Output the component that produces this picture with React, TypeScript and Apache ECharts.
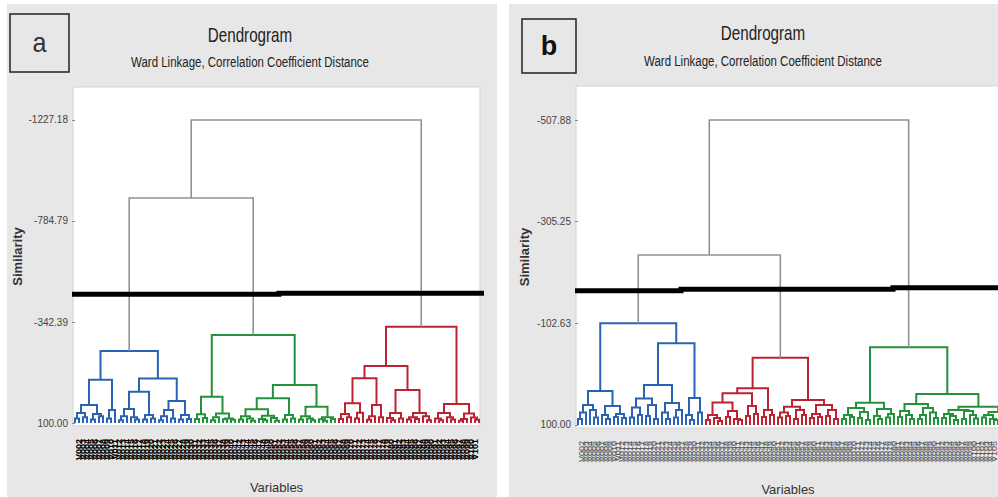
import React, { useEffect, useRef } from "react";
import * as echarts from "echarts";

type Tree = number | string | [number, Tree, Tree];

// ---------- Panel a (similarity heights; leaf = 0) ----------
const blueA: Tree = [-215,
  [-90,
    [21, [56, [80, 0, 0], [75, 0, 0]], [60, [85, 0, 0], [70, 0, 0]]],
    [43, [80, 0, 0], 0]],
  [-95,
    [-37,
      [39, [70, [88, 0, 0], 0], [75, 0, [85, 0, 0]]],
      [65, [85, 0, 0], [80, 0, 0]]],
    [4,
      [43, [70, [88, 0, 0], 0], [80, 0, 0]],
      [65, [85, 0, 0], [82, 0, 0]]]]];

const greenA: Tree = [-285.5,
  [-15,
    [62, [82, 0, 0], [78, 0, 0]],
    [58, [75, [88, 0, 0], 0], [80, [84, 0, 0], [86, 0, 0]]]],
  [-66.4,
    [-8,
      [40,
        [70, [85, 0, 0], [80, 0, [90, 0, 0]]],
        [68, [82, 0, [88, 0, 0]], [78, 0, [90, 0, 0]]]],
      [65, [85, 0, 0], [80, 0, 0]]],
    [28.6,
      [70, [85, 0, 0], [80, 0, [88, 0, 0]]],
      [75, [84, 0, [90, 0, 0]], [82, 0, 0]]]]];

const redA: Tree = [-321.8,
  [-149.7,
    [-95.8,
      [14, [60, [82, 0, 0], [75, 0, 0]], [55, [80, 0, 0], 0]],
      [21, [70, [86, 0, 0], 0], [75, 0, 0]]],
    [-44.5,
      [56, [78, 0, [88, 0, 0]], [80, 0, 0]],
      [56, [75, [85, 0, 0], [82, 0, 0]], [70, 0, [88, 0, 0]]]]],
  [16.8,
    [56, [80, 0, [88, 0, 0]], [75, 0, [85, 0, 0]]],
    [58, [82, [90, 0, 0], 0], [76, 0, [86, 0, 0]]]]];

const topA: Tree = [-1227.18, [-885.5, "blue", "green"], "red"];
const ticksA = [100, -342.39, -784.79, -1227.18];
const cutA = [[-0.75, -463.7], [51, -463.7], [51, -468], [102.25, -468]];

// ---------- Panel b ----------
const blueB: Tree = [-102.7,
  [32.2,
    [60, [75, [88, 0, 0], 0], [70, 0, [85, 0, 0]]],
    [62, [80, 0, [88, 0, 0]], [78, [84, 0, 0], [86, 0, 0]]]],
  [-62.8,
    [20.3,
      [47, [65, [85, 0, 0], [80, 0, 0]], [60, [82, 0, 0], [88, 0, 0]]],
      [56, [75, 0, [88, 0, 0]], [70, [85, 0, 0], 0]]],
    [46, [80, 0, [90, 0, 0]], [75, 0, 0]]]];

const redB: Tree = [-34.2,
  [26.9,
    [36.8,
      [55, [80, [90, 0, 0], [86, 0, [92, 0, 0]]], [72, [84, 0, 0], [88, 0, [90, 0, 0]]]],
      [62, [82, 0, 0], [78, 0, 0]]],
    [70, [84, 0, 0], [80, 0, 0]]],
  [50.2,
    [63.5, [75, [85, 0, 0], [82, 0, 0]], [70, [88, 0, 0], [80, 0, 0]]],
    [60, [78, [86, 0, 0], [84, 0, 0]], [70, [82, 0, 0], [88, 0, 0]]]]];

const greenB: Tree = [-54.8,
  [55.5,
    [66, [80, [88, 0, 0], [84, 0, 0]], [74, [86, 0, 0], [90, 0, 0]]],
    [68, [82, 0, [88, 0, 0]], [78, [85, 0, 0], 0]]],
  [38.2,
    [58,
      [72, [84, 0, 0], [80, 0, [88, 0, 0]]],
      [66, [80, [88, 0, 0], 0], [75, 0, [86, 0, 0]]]],
    [63.5,
      [70, [78, [86, 0, 0], [82, 0, [90, 0, 0]]], [72, [88, 0, 0], [80, 0, [87, 0, 0]]]],
      [74, [80, [85, 0, 0], [88, 0, [90, 0, 0]]], [76, [84, 0, 0], [82, 0, 0]]]]]];

const topB: Tree = [-507.88, [-238.8, "blue", "red"], "green"];
const ticksB = [100, -102.63, -305.25, -507.88];
const cutB = [[-0.75, -167.7], [25.75, -167.7], [25.75, -170.5], [78.75, -170.5], [78.75, -173.7], [106, -173.7]];

const COLORS: Record<string, string> = { blue: "#2a63b3", green: "#23923a", red: "#bd2233" };
const GRAY = "#929292";
const FONT = '"Liberation Sans", Arial, sans-serif';

function layout(top: Tree, clusters: Record<string, Tree>) {
  const segs: { coords: number[][]; lineStyle: any }[] = [];
  let next = 0;
  const walk = (node: Tree, color: string): [number, number] => {
    if (typeof node === "string") return walk(clusters[node], COLORS[node]);
    if (typeof node === "number") return [next++, 100];
    const [h, l, r] = node;
    const a = walk(l, color);
    const b = walk(r, color);
    segs.push({
      coords: [[a[0], a[1]], [a[0], h], [b[0], h], [b[0], b[1]]],
      lineStyle: { color, width: color === GRAY ? 1.6 : 2, opacity: 1 },
    });
    return [(a[0] + b[0]) / 2, h];
  };
  walk(top, GRAY);
  return { segs, count: next };
}

export default function App() {
  const ref = useRef<HTMLDivElement>(null);
  useEffect(() => {
    if (!ref.current) return;
    const chart = echarts.init(ref.current, undefined, { renderer: "svg" });
    const A = layout(topA, { blue: blueA, green: greenA, red: redA });
    const B = layout(topB, { blue: blueB, green: greenB, red: redB });
    const leavesA = Array.from({ length: A.count }, (_, i) => i);
    const leavesB = Array.from({ length: 106 }, (_, i) => i);
    const namesA = leavesA.map((i) => "V" + String(i + 1).padStart(3, "0"));
    const namesB = leavesB.map((i) => "V" + String(i + 1).padStart(3, "0"));

    const yAxis = (ticks: number[], min: number, max: number, idx: number, gap: number) => ({
      type: "value",
      gridIndex: idx,
      inverse: true,
      min,
      max,
      name: "Similarity",
      nameLocation: "middle",
      nameGap: gap,
      nameTextStyle: { fontSize: 13, fontWeight: "bold", color: "#333", fontFamily: FONT },
      axisLine: { show: false },
      splitLine: { show: false },
      axisTick: { show: true, length: 3, customValues: ticks, lineStyle: { color: "#888" } },
      axisLabel: {
        customValues: ticks,
        formatter: (v: number) => v.toFixed(2),
        fontSize: 10,
        color: "#444",
        fontFamily: FONT,
        margin: 5,
      },
    });
    const xAxis = (idx: number, max: number, leaves: number[], names: string[], color: string, weight: string) => ({
      type: "value",
      gridIndex: idx,
      min: -0.5,
      max,
      name: "Variables",
      nameLocation: "middle",
      nameGap: 55,
      nameTextStyle: { fontSize: 13, color: "#333", fontFamily: FONT },
      axisLine: { show: false },
      splitLine: { show: false },
      axisTick: { show: false },
      axisLabel: {
        customValues: leaves,
        formatter: (v: number) => names[v] ?? "",
        rotate: 90,
        fontSize: 9,
        fontWeight: weight,
        color,
        margin: 13,
        fontFamily: FONT,
      },
    });

    const text = (x: number, y: number, t: string, size: number, sx = 1, weight = "normal", fill = "#222") => ({
      type: "text",
      x,
      y,
      scaleX: sx,
      silent: true,
      style: { text: t, fontSize: size, fontWeight: weight, fontFamily: FONT, fill, align: "center", verticalAlign: "middle" },
    });

    chart.setOption({
      animation: false,
      backgroundColor: "#ffffff",
      graphic: [
        { type: "rect", z: -10, silent: true, shape: { x: 7, y: 4, width: 490, height: 493 }, style: { fill: "#e7e7e7" } },
        { type: "rect", z: -10, silent: true, shape: { x: 509, y: 4, width: 489, height: 493 }, style: { fill: "#e7e7e7" } },
        { type: "rect", silent: true, shape: { x: 10, y: 14, width: 59, height: 58 }, style: { fill: "none", stroke: "#222", lineWidth: 1.5 } },
        { type: "rect", silent: true, shape: { x: 522, y: 19, width: 54, height: 54 }, style: { fill: "none", stroke: "#222", lineWidth: 1.5 } },
        text(39.5, 43, "a", 28, 0.9, "normal", "#333"),
        text(549, 46, "b", 27, 1, "bold", "#111"),
        text(250, 35, "Dendrogram", 20, 0.76),
        text(250, 62, "Ward Linkage, Correlation Coefficient Distance", 14, 0.82),
        text(763, 33, "Dendrogram", 20, 0.76),
        text(763, 61, "Ward Linkage, Correlation Coefficient Distance", 14, 0.82),
      ],
      grid: [
        { left: 73, top: 87, width: 407, height: 339, show: true, outerBoundsMode: "none", containLabel: false,
          backgroundColor: "#ffffff", borderColor: "#d2d2d2", borderWidth: 1 },
        { left: 576, top: 86, width: 424, height: 342, show: true, outerBoundsMode: "none", containLabel: false,
          backgroundColor: "#ffffff", borderColor: "#d2d2d2", borderWidth: 1 },
      ],
      xAxis: [
        xAxis(0, 101.25, leavesA, namesA, "#000", "bold"),
        xAxis(1, 105.5, leavesB, namesB, "#555", "normal"),
      ],
      yAxis: [
        yAxis(ticksA, -1371.7, 113.1, 0, 49),
        yAxis(ticksB, -575.7, 106, 1, 45),
      ],
      series: [
        { type: "lines", coordinateSystem: "cartesian2d", xAxisIndex: 0, yAxisIndex: 0, polyline: true, clip: false, silent: true, data: A.segs },
        { type: "lines", coordinateSystem: "cartesian2d", xAxisIndex: 1, yAxisIndex: 1, polyline: true, clip: false, silent: true, data: B.segs },
        { type: "lines", coordinateSystem: "cartesian2d", xAxisIndex: 0, yAxisIndex: 0, polyline: true, clip: false, silent: true, z: 5,
          data: [{ coords: cutA }], lineStyle: { color: "#000", width: 5, opacity: 1 } },
        { type: "lines", coordinateSystem: "cartesian2d", xAxisIndex: 1, yAxisIndex: 1, polyline: true, clip: false, silent: true, z: 5,
          data: [{ coords: cutB }], lineStyle: { color: "#000", width: 5, opacity: 1 } },
      ],
    });
    return () => chart.dispose();
  }, []);
  return <div ref={ref} style={{ position: "fixed", left: 0, top: 0, width: 998, height: 497 }} />;
}
